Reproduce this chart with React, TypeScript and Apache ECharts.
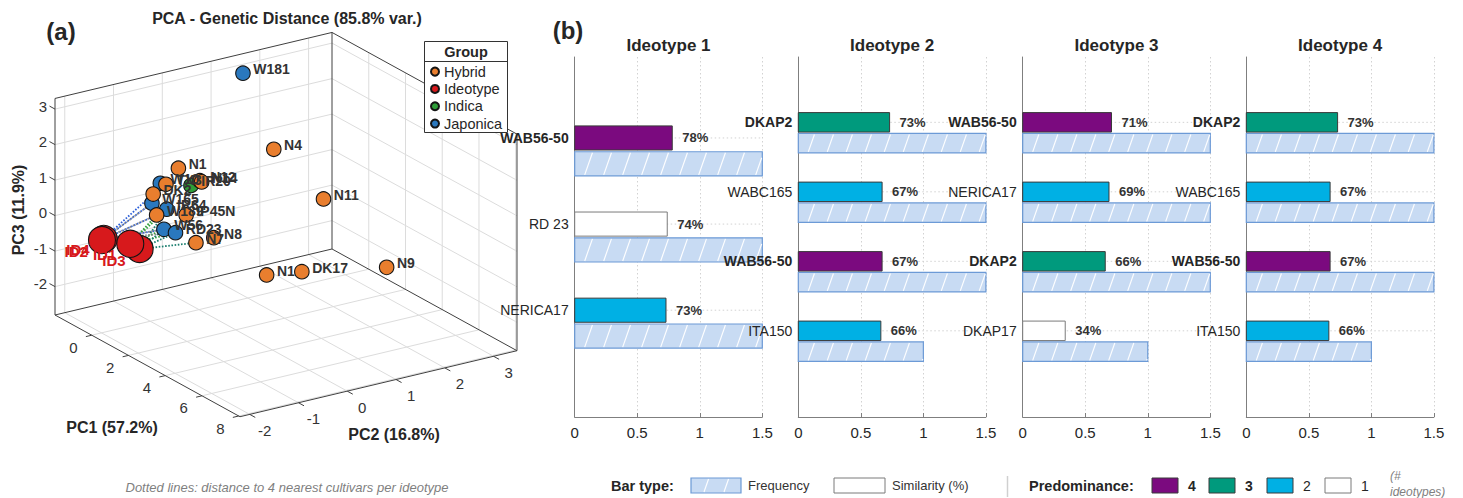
import React, { useEffect, useRef } from 'react';
import * as echarts from 'echarts';

const FONT = '"Liberation Sans", Arial, Helvetica, sans-serif';
const INK = '#262626';

/* ---------------- Panel (a): PCA of genetic distance ---------------- */
const GROUPS = ['Hybrid', 'Ideotype', 'Indica', 'Japonica'];
const GROUP_COLORS = ['#E97E2E', '#D7191C', '#2E9E38', '#2A78BE'];
const DRAW_ORDER = ['Japonica', 'Indica', 'Hybrid', 'Ideotype'];

const pointNames = ['W181', 'N4', 'N11', 'N1', 'N12', 'N14', 'IR20', 'TX3', 'W10', 'DK2', 'W165', 'IR64', 'W189', 'IP45N', 'W56', 'RD23', 'N7', 'N8', 'N1', 'DK17', 'N9', 'ID4', 'ID3', 'ID2', 'ID1'];
const pointGroups = ['Japonica', 'Hybrid', 'Hybrid', 'Hybrid', 'Hybrid', 'Hybrid', 'Indica', 'Hybrid', 'Japonica', 'Hybrid', 'Japonica', 'Japonica', 'Hybrid', 'Hybrid', 'Japonica', 'Japonica', 'Hybrid', 'Hybrid', 'Hybrid', 'Hybrid', 'Hybrid', 'Ideotype', 'Ideotype', 'Ideotype', 'Ideotype'];
const pc1 = [-1.14, 1.68, 2.74, -0.30, 0.18, 0.17, 0.12, -0.13, -0.17, -0.40, -0.52, -0.11, -0.37, 0.36, -0.24, -0.06, 0.23, 0.67, 0.68, 1.03, 2.62, -1.18, -0.26, -1.01, -0.53];
const pc2 = [1.33, 0.90, 1.52, -0.31, -0.05, -0.01, -0.21, -0.63, -0.73, -0.79, -0.77, -0.62, -0.73, -0.40, -0.63, -0.46, -0.15, 0.05, 1.13, 1.72, 2.86, -1.51, -1.12, -1.61, -1.21];
const pc3 = [3.10, 1.90, 0.60, 1.20, 0.90, 0.85, 0.80, 0.90, 0.95, 0.60, 0.30, 0.20, 0.00, 0.10, -0.40, -0.50, -0.80, -0.60, -2.00, -2.00, -1.80, -0.65, -0.80, -0.60, -0.70];

const nearestOf = ['ID1', 'ID2', 'ID3', 'ID4'];
const nearestCultivars = [
  ['W56', 'RD23', 'W189', 'IR64'],
  ['W189', 'W165', 'DK2', 'W56'],
  ['RD23', 'W56', 'N7', 'IR64'],
  ['W189', 'W165', 'W56', 'RD23'],
];
const NEAREST_COLORS = ['#2E9E38', '#2B5FD9', '#1B7F6F', '#8C8C8C'];

const PC1_LIM = [-2, 8.07];
const PC2_LIM = [-2.2, 3.48];
const PC3_LIM = [-2.8, 3.3];
const PC1_TICKS = [0, 2, 4, 6, 8];
const PC2_TICKS = [-2, -1, 0, 1, 2, 3];
const PC3_TICKS = [-2, -1, 0, 1, 2, 3];

// orthographic camera: view-plane displacement per data unit along PC1, PC2, PC3
const VIEW_ORIGIN = [55, 315];
const VIEW_E1 = [18.37, 10.1];
const VIEW_E2 = [48.77, -11.62];
const VIEW_E3 = [0, -35.5];

function proj(p1: number, p2: number, p3: number): [number, number] {
  const a = p1 - PC1_LIM[0];
  const b = p2 - PC2_LIM[0];
  const c = p3 - PC3_LIM[0];
  return [
    VIEW_ORIGIN[0] + a * VIEW_E1[0] + b * VIEW_E2[0] + c * VIEW_E3[0],
    VIEW_ORIGIN[1] + a * VIEW_E1[1] + b * VIEW_E2[1] + c * VIEW_E3[1],
  ];
}

/* ---------------- Panel (b): nearest cultivars per ideotype ---------------- */
const ideotypeTitles = ['Ideotype 1', 'Ideotype 2', 'Ideotype 3', 'Ideotype 4'];
const topCultivars = [
  ['WAB56-50', 'RD 23', 'NERICA17'],
  ['DKAP2', 'WABC165', 'WAB56-50', 'ITA150'],
  ['WAB56-50', 'NERICA17', 'DKAP2', 'DKAP17'],
  ['DKAP2', 'WABC165', 'WAB56-50', 'ITA150'],
];
const similarity = [
  [0.78, 0.74, 0.73],
  [0.73, 0.67, 0.67, 0.66],
  [0.71, 0.69, 0.66, 0.34],
  [0.73, 0.67, 0.67, 0.66],
];
const frequency = [
  [1.5, 1.5, 1.5],
  [1.5, 1.5, 1.5, 1],
  [1.5, 1.5, 1.5, 1],
  [1.5, 1.5, 1.5, 1],
];
const xTicks = [0, 0.5, 1, 1.5];
const predominanceLevels = [4, 3, 2, 1];
const PRED_COLORS: Record<number, string> = { 4: '#7B0A7F', 3: '#009A7D', 2: '#00B0E4', 1: '#FFFFFF' };
const FREQ_FILL = '#C8DBF3';
const FREQ_STROKE = '#6C9AD6';

const GRID_LEFT = [574.7, 798.3, 1022.7, 1246.3];
const GRID_TOP = 57;
const GRID_W = 187.6;
const GRID_H = 360;

function predominanceOf(name: string) {
  return topCultivars.filter((l) => l.includes(name)).length;
}

function hatch(x: number, y: number, w: number, h: number, first = 10, step = 19, slope = 0.35) {
  const out: any[] = [];
  const yb = y + h - 1;
  const yt = y + 1;
  const hh = yb - yt;
  const dx = hh * slope;
  const xr = x + w - 0.6;
  for (let xb = x + first; xb < xr; xb += step) {
    let x2 = xb + dx;
    let y2 = yt;
    if (x2 > xr) {
      const t = (xr - xb) / dx;
      x2 = xr;
      y2 = yb - t * hh;
    }
    out.push({ type: 'line', z2: 5, shape: { x1: xb, y1: yb, x2, y2 }, style: { stroke: 'rgba(255,255,255,0.95)', lineWidth: 1.2 } });
  }
  return out;
}

function segmentSeries(segs: number[][], style: any, z: number) {
  return {
    type: 'custom',
    coordinateSystem: 'cartesian2d',
    xAxisIndex: 0,
    yAxisIndex: 0,
    z,
    silent: true,
    clip: false,
    data: segs,
    encode: { x: [0, 2], y: [1, 3] },
    renderItem: (params: any, api: any) => {
      const a = api.coord([api.value(0), api.value(1)]);
      const b = api.coord([api.value(2), api.value(3)]);
      return { type: 'line', shape: { x1: a[0], y1: a[1], x2: b[0], y2: b[1] }, style: { ...style } };
    },
  };
}

function textSeries(items: any[], z: number) {
  return {
    type: 'custom',
    coordinateSystem: 'cartesian2d',
    xAxisIndex: 0,
    yAxisIndex: 0,
    z,
    silent: true,
    clip: false,
    data: items.map((it) => it.at),
    encode: { x: 0, y: 1 },
    renderItem: (params: any, api: any) => {
      const it = items[params.dataIndex];
      const p = api.coord([api.value(0), api.value(1)]);
      return {
        type: 'text',
        style: {
          text: it.text, x: p[0] + it.dx, y: p[1] + it.dy, align: it.align, verticalAlign: 'middle',
          fontSize: 15, fontFamily: FONT, fill: '#333',
        },
      };
    },
  };
}

function buildOption() {
  const [x0, x1] = PC1_LIM;
  const [y0, y1] = PC2_LIM;
  const [z0, z1] = PC3_LIM;
  const seg = (a: number[], b: number[]) => [...proj(a[0], a[1], a[2]), ...proj(b[0], b[1], b[2])];

  const gridSegs: number[][] = [];
  PC1_TICKS.forEach((t) => {
    gridSegs.push(seg([t, y0, z0], [t, y1, z0]));
    gridSegs.push(seg([t, y1, z0], [t, y1, z1]));
  });
  PC2_TICKS.forEach((t) => {
    gridSegs.push(seg([x0, t, z0], [x1, t, z0]));
    gridSegs.push(seg([x0, t, z0], [x0, t, z1]));
  });
  PC3_TICKS.forEach((t) => {
    gridSegs.push(seg([x0, y0, t], [x0, y1, t]));
    gridSegs.push(seg([x0, y1, t], [x1, y1, t]));
  });
  const boxSegs = [
    seg([x0, y0, z0], [x1, y0, z0]), seg([x1, y0, z0], [x1, y1, z0]), seg([x1, y1, z0], [x0, y1, z0]), seg([x0, y1, z0], [x0, y0, z0]),
    seg([x0, y0, z0], [x0, y0, z1]), seg([x0, y1, z0], [x0, y1, z1]), seg([x1, y1, z0], [x1, y1, z1]),
    seg([x0, y0, z1], [x0, y1, z1]), seg([x0, y1, z1], [x1, y1, z1]),
  ];
  const tickSegs = [
    ...PC1_TICKS.map((t) => seg([t, y0, z0], [t, y0 - 0.12, z0])),
    ...PC2_TICKS.map((t) => seg([x1, t, z0], [x1 + 0.3, t, z0])),
    ...PC3_TICKS.map((t) => seg([x0, y0, t], [x0 - 0.3, y0, t])),
  ];
  const tickLabels = [
    ...PC1_TICKS.map((t) => ({ at: proj(t, y0, z0), text: String(t), dx: -18.4, dy: 12, align: 'center' })),
    ...PC2_TICKS.map((t) => ({ at: proj(x1, t, z0), text: String(t), dx: 15, dy: 16, align: 'center' })),
    ...PC3_TICKS.map((t) => ({ at: proj(x0, y0, t), text: String(t), dx: -8, dy: -3, align: 'right' })),
  ];

  const idx = (n: string) => pointNames.indexOf(n);
  const P = (i: number) => proj(pc1[i], pc2[i], pc3[i]);
  const nearestSeries = nearestOf.map((id, k) =>
    segmentSeries(
      nearestCultivars[k].map((c) => [...P(idx(id)), ...P(idx(c))]),
      { stroke: NEAREST_COLORS[k], lineWidth: 1.8, lineDash: [1.6, 1.6] },
      3,
    ),
  );

  const scatterSeries = DRAW_ORDER.map((g) => {
    const gi = GROUPS.indexOf(g);
    const isIdeo = g === 'Ideotype';
    const data = pointNames
      .map((n, i) => ({ n, i }))
      .filter((o) => pointGroups[o.i] === g)
      .map((o) => ({ name: o.n, value: P(o.i) }));
    return {
      type: 'scatter',
      name: g,
      xAxisIndex: 0,
      yAxisIndex: 0,
      z: 4,
      silent: true,
      symbol: 'circle',
      symbolSize: isIdeo ? 27 : 14.5,
      itemStyle: { color: GROUP_COLORS[gi], borderColor: '#141414', borderWidth: 1.1, opacity: 1 },
      label: isIdeo
        ? { show: true, formatter: '{b}', position: 'left', distance: 0, offset: [0, 11], fontSize: 15, fontWeight: 'bold', color: '#D7191C', fontFamily: FONT }
        : { show: true, formatter: '{b}', position: 'right', distance: 2.5, offset: [0, -4], fontSize: 14, fontWeight: 'bold', color: '#333', fontFamily: FONT },
      data,
    };
  });

  /* panel (b) */
  const bGrids = GRID_LEFT.map((l) => ({ left: l, top: GRID_TOP, width: GRID_W, height: GRID_H }));
  const bX = GRID_LEFT.map((_, k) => ({
    type: 'value', gridIndex: k + 1, min: xTicks[0], max: xTicks[xTicks.length - 1], interval: 0.5,
    axisLine: { show: true, onZero: false, lineStyle: { color: '#7f7f7f', width: 1 } },
    axisTick: { show: true, inside: true, length: 4, lineStyle: { color: '#7f7f7f' } },
    axisLabel: { fontSize: 15, color: INK, margin: 8, fontFamily: FONT },
    splitLine: { show: true, lineStyle: { color: '#d2d2d2', type: [1.5, 2.5], width: 1 } },
  }));
  const bY = GRID_LEFT.map((_, k) => ({
    type: 'value', gridIndex: k + 1, inverse: true, min: 0.06, max: topCultivars[k].length + 1.24,
    axisLine: { show: true, onZero: false, lineStyle: { color: '#7f7f7f', width: 1 } },
    axisTick: { show: false }, axisLabel: { show: false }, splitLine: { show: false },
  }));
  const xMax = xTicks[xTicks.length - 1];
  const rowSeries = topCultivars.map((names, k) => ({
    type: 'custom',
    xAxisIndex: k + 1,
    yAxisIndex: k + 1,
    z: 3,
    silent: true,
    clip: false,
    encode: { x: [1, 2], y: 0 },
    data: names.map((n, j) => [j + 1, similarity[k][j], frequency[k][j], predominanceOf(n)]),
    renderItem: (params: any, api: any) => {
      const j = params.dataIndex;
      const name = names[j];
      const i = api.value(0);
      const sim = api.value(1);
      const freq = api.value(2);
      const pred = api.value(3);
      const g0 = api.coord([0, i]);
      const g1 = api.coord([xMax, i]);
      const s0 = api.coord([0, i - 0.14]);
      const s1 = api.coord([sim, i + 0.14]);
      const f0 = api.coord([0, i + 0.16]);
      const f1 = api.coord([freq, i + 0.44]);
      const sy = Math.min(s0[1], s1[1]);
      const sh = Math.abs(s1[1] - s0[1]);
      const fy = Math.min(f0[1], f1[1]);
      const fh = Math.abs(f1[1] - f0[1]);
      const fx = f0[0];
      const fw = f1[0] - f0[0];
      const cy = sy + sh / 2;
      return {
        type: 'group',
        children: [
          { type: 'line', z2: 1, shape: { x1: g0[0], y1: g0[1], x2: g1[0], y2: g1[1] }, style: { stroke: '#d2d2d2', lineWidth: 1, lineDash: [1.5, 2.5] } },
          { type: 'rect', z2: 3, shape: { x: fx, y: fy, width: fw, height: fh }, style: { fill: FREQ_FILL, stroke: FREQ_STROKE, lineWidth: 1.2 } },
          ...hatch(fx, fy, fw, fh),
          { type: 'rect', z2: 6, shape: { x: s0[0], y: sy, width: s1[0] - s0[0], height: sh }, style: { fill: PRED_COLORS[pred], stroke: pred === 1 ? '#7a7a7a' : '#3a3a3a', lineWidth: 1 } },
          { type: 'text', z2: 7, style: { text: name, x: s0[0] - 6, y: cy, align: 'right', verticalAlign: 'middle', fontSize: 14, fontWeight: pred >= 3 ? 'bold' : 'normal', fontFamily: FONT, fill: INK } },
          { type: 'text', z2: 7, style: { text: Math.round(sim * 100) + '%', x: s1[0] + 10, y: cy, align: 'left', verticalAlign: 'middle', fontSize: 13, fontWeight: 'bold', fontFamily: FONT, fill: '#333' } },
        ],
      };
    },
  }));

  const T = (text: string, x: number, y: number, s: any = {}, extra: any = {}) => ({
    type: 'text', x, y, z: 50, silent: true, ...extra,
    style: { text, fill: INK, fontFamily: FONT, fontSize: 14, align: 'center', verticalAlign: 'middle', ...s },
  });

  const legendSwatchY = 478;
  const predX = [1152, 1209, 1267, 1325];
  const graphics: any[] = [
    T('(a)', 61, 31, { fontSize: 24, fontWeight: 'bold' }),
    T('PCA - Genetic Distance (85.8% var.)', 287, 18, { fontSize: 16, fontWeight: 'bold' }),
    T('PC1 (57.2%)', 112, 427, { fontSize: 16, fontWeight: 'bold' }),
    T('PC2 (16.8%)', 394, 434, { fontSize: 16, fontWeight: 'bold' }),
    T('PC3 (11.9%)', 18, 210, { fontSize: 16, fontWeight: 'bold' }, { rotation: Math.PI / 2 }),
    T('Dotted lines: distance to 4 nearest cultivars per ideotype', 287, 487, { fontSize: 13, fontStyle: 'italic', fill: '#7f7f7f' }),
    { type: 'rect', z: 50, silent: true, shape: { x: 424.5, y: 41.5, width: 83, height: 91 }, style: { fill: '#fff', stroke: '#333', lineWidth: 1 } },
    { type: 'line', z: 51, silent: true, shape: { x1: 424.5, y1: 61.5, x2: 507.5, y2: 61.5 }, style: { stroke: '#333', lineWidth: 1 } },
    T('Group', 466, 51.5, { fontSize: 14.5, fontWeight: 'bold' }, { z: 51 }),
    T('(b)', 568, 30, { fontSize: 24, fontWeight: 'bold' }),
    ...ideotypeTitles.map((t, k) => T(t, GRID_LEFT[k] + GRID_W / 2, 45, { fontSize: 17, fontWeight: 'bold' })),
    T('Bar type:', 611, 485.5, { fontSize: 14.5, fontWeight: 'bold', align: 'left' }),
    { type: 'rect', z: 50, silent: true, shape: { x: 691, y: legendSwatchY, width: 50, height: 15 }, style: { fill: FREQ_FILL, stroke: FREQ_STROKE, lineWidth: 1.2 } },
    ...hatch(691, legendSwatchY, 50, 15, 13, 20, 0.35).map((h) => ({ ...h, z: 51, silent: true })),
    T('Frequency', 748, 485.5, { fontSize: 13, align: 'left', fill: '#333' }),
    { type: 'rect', z: 50, silent: true, shape: { x: 834, y: legendSwatchY, width: 51, height: 15 }, style: { fill: '#fff', stroke: '#7a7a7a', lineWidth: 1 } },
    T('Similarity (%)', 892, 485.5, { fontSize: 13, align: 'left', fill: '#333' }),
    { type: 'line', z: 50, silent: true, shape: { x1: 1007.5, y1: 476, x2: 1007.5, y2: 497 }, style: { stroke: '#d0d0d0', lineWidth: 1.5 } },
    T('Predominance:', 1029, 485.5, { fontSize: 14.5, fontWeight: 'bold', align: 'left' }),
    ...predominanceLevels.flatMap((lv, k) => [
      { type: 'rect', z: 50, silent: true, shape: { x: predX[k], y: legendSwatchY, width: 26, height: 15 }, style: { fill: PRED_COLORS[lv], stroke: lv === 1 ? '#7a7a7a' : '#3a3a3a', lineWidth: 1 } },
      T(String(lv), predX[k] + 36, 485.5, { fontSize: 14, align: 'left', fontWeight: lv >= 3 ? 'bold' : 'normal' }),
    ]),
    T('(#', 1390, 476, { fontSize: 12, fontStyle: 'italic', fill: '#7f7f7f', align: 'left' }),
    T('ideotypes)', 1390, 492, { fontSize: 12, fontStyle: 'italic', fill: '#7f7f7f', align: 'left' }),
  ];

  return {
    animation: false,
    backgroundColor: '#ffffff',
    textStyle: { fontFamily: FONT },
    grid: [{ left: 0, top: 0, width: 540, height: 498 }, ...bGrids],
    xAxis: [{ type: 'value', gridIndex: 0, min: 0, max: 540, show: false }, ...bX],
    yAxis: [{ type: 'value', gridIndex: 0, min: 0, max: 498, inverse: true, show: false }, ...bY],
    legend: {
      data: GROUPS,
      orient: 'vertical',
      left: 430,
      top: 63,
      padding: 0,
      itemWidth: 8,
      itemHeight: 8,
      itemGap: 0,
      icon: 'circle',
      selectedMode: false,
      z: 60,
      textStyle: { fontSize: 14.5, lineHeight: 17.3, color: INK, fontFamily: FONT },
    },
    graphic: graphics,
    series: [
      segmentSeries(gridSegs, { stroke: '#dcdcdc', lineWidth: 1 }, 1),
      segmentSeries(boxSegs, { stroke: '#404040', lineWidth: 1 }, 2),
      segmentSeries(tickSegs, { stroke: '#404040', lineWidth: 1 }, 2),
      textSeries(tickLabels, 2),
      ...nearestSeries,
      ...scatterSeries,
      ...rowSeries,
    ],
  };
}

export default function App() {
  const ref = useRef<HTMLDivElement>(null);
  useEffect(() => {
    if (!ref.current) return;
    const chart = echarts.init(ref.current, undefined, { renderer: 'svg' });
    chart.setOption(buildOption() as any);
    return () => chart.dispose();
  }, []);
  return <div ref={ref} style={{ position: 'fixed', left: 0, top: 0, width: 1463, height: 498, background: '#fff' }} />;
}
